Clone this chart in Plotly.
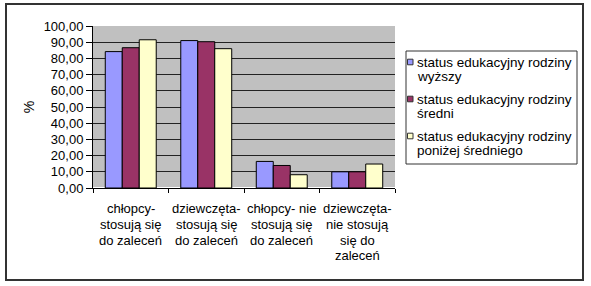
import plotly.graph_objects as go

categories = ["chłopcy-<br>stosują się<br>do zaleceń",
              "dziewczęta-<br>stosują się<br>do zaleceń",
              "chłopcy- nie<br>stosują się<br>do zaleceń",
              "dziewczęta-<br>nie stosują<br>się do<br>zaleceń"]
series_names = ["status edukacyjny rodziny<br>wyższy",
                "status edukacyjny rodziny<br>średni",
                "status edukacyjny rodziny<br>poniżej średniego"]
wyzszy = [84.2, 91.0, 16.4, 10.0]
sredni = [86.6, 90.3, 13.9, 10.0]
ponizej = [91.5, 86.0, 8.2, 14.8]
colors = ["#9999FF", "#993366", "#FFFFCC"]

W, H = 591, 286
L, R, T, B = 93, 395, 26, 188
pw, ph = R - L, B - T
FONT = "Liberation Sans, Arial"

fig = go.Figure()
for name, vals, c in zip(series_names, [wyzszy, sredni, ponizej], colors):
    fig.add_trace(go.Bar(x=categories, y=vals, name=name, showlegend=False,
                         marker=dict(color=c, line=dict(color="black", width=1))))

def px(x):
    return (x - L) / pw

def py(y):
    return (B - y) / ph

# outer frame
fig.add_shape(type="rect", xref="paper", yref="paper",
              x0=px(6), x1=px(583), y0=py(280), y1=py(4),
              line=dict(color="#333333", width=2), layer="below")

# category labels, one annotation per line for Excel-like line spacing
cat_line_y = [209, 224.5, 240, 255.5]
for i, cat in enumerate(categories):
    for j, line in enumerate(cat.split("<br>")):
        fig.add_annotation(xref="x", yref="paper", x=i, y=py(cat_line_y[j]),
                           text=line, showarrow=False, xanchor="center", yanchor="middle",
                           font=dict(family=FONT, size=13, color="black"))

# legend (drawn manually to match the small square keys)
fig.add_shape(type="rect", xref="paper", yref="paper",
              x0=px(406), x1=px(577), y0=py(164), y1=py(51),
              line=dict(color="#333333", width=1), fillcolor="white", layer="below")
entry_top = [62, 99, 136]
line_gap = 14.5
for name, c, y0 in zip(series_names, colors, entry_top):
    fig.add_shape(type="rect", xref="paper", yref="paper",
                  x0=px(407.5), x1=px(413), y0=py(y0 + 2.8), y1=py(y0 - 2.8),
                  line=dict(color="#333333", width=1), fillcolor=c)
    for i, line in enumerate(name.split("<br>")):
        fig.add_annotation(xref="paper", yref="paper", x=px(415), y=py(y0 + i * line_gap),
                           text=line, showarrow=False, xanchor="left", yanchor="middle",
                           font=dict(family=FONT, size=13.5, color="black"))

fig.update_layout(
    width=W, height=H,
    margin=dict(l=L, r=W - R, t=T, b=H - B, pad=0),
    paper_bgcolor="white", plot_bgcolor="#C0C0C0",
    separators=", ",
    barmode="group", bargap=0.325, bargroupgap=0,
    font=dict(family=FONT, size=13, color="black"),
    showlegend=False,
    xaxis=dict(showline=True, linecolor="black", linewidth=1,
               ticks="outside", tickson="boundaries", ticklen=4, tickcolor="black",
               showticklabels=False, fixedrange=True),
    yaxis=dict(range=[0, 100], dtick=10, tickformat=".2f",
               showgrid=True, gridcolor="#222222", gridwidth=1,
               showline=True, linecolor="black", linewidth=1,
               ticks="outside", ticklen=6, tickcolor="black",
               tickfont=dict(size=13),
               title=dict(text="%", standoff=5, font=dict(size=14))),
)

fig.write_html("out.html")
